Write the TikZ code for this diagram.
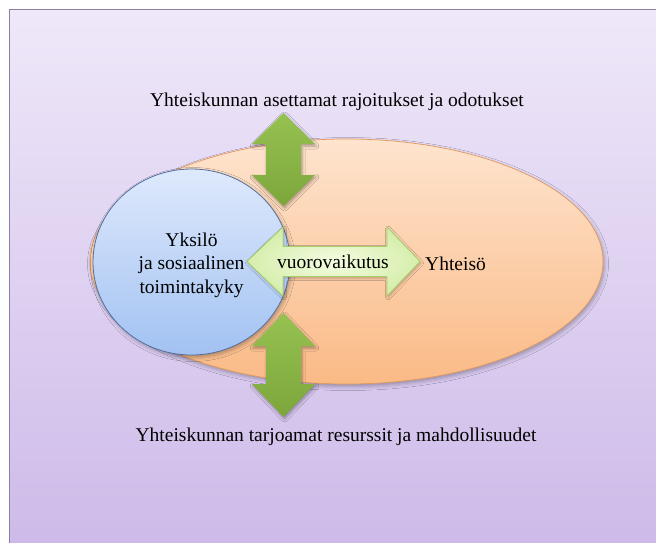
\documentclass[tikz,border=0pt]{standalone}
\usepackage{fontspec}
\setmainfont{Liberation Serif}
\usetikzlibrary{shapes.geometric,shadows.blur}

\definecolor{bgtop}{RGB}{239,232,249}
\definecolor{bgbot}{RGB}{204,184,232}
\definecolor{frameline}{RGB}{138,128,166}
\definecolor{peachtop}{RGB}{254,228,206}
\definecolor{peachbot}{RGB}{250,186,134}
\definecolor{peachline}{RGB}{226,152,92}
\definecolor{bluetop}{RGB}{222,233,252}
\definecolor{bluebot}{RGB}{162,194,242}
\definecolor{blueline}{RGB}{84,112,158}
\definecolor{greentop}{RGB}{150,194,82}
\definecolor{greenbot}{RGB}{124,166,58}
\definecolor{palegreentop}{RGB}{244,252,226}
\definecolor{palegreenbot}{RGB}{214,238,172}
\definecolor{palegreenline}{RGB}{168,206,108}

% vertical double block arrow: centre x, top y, bottom y, head length
\newcommand\updownblock[5][]{%
  \path[greenblock,#1]
    (#2,#3) -- (#2+31.5,#3+#5) -- (#2+17.5,#3+#5) -- (#2+17.5,#4-#5)
    -- (#2+31.5,#4-#5) -- (#2,#4) -- (#2-31.5,#4-#5) -- (#2-17.5,#4-#5)
    -- (#2-17.5,#3+#5) -- (#2-31.5,#3+#5) -- cycle;}

\tikzset{
  label text/.style={font=\fontsize{19.5}{23.5}\selectfont, text=black, inner sep=0pt},
  greenblock/.style={top color=greentop, bottom color=greenbot, draw=none,
    blur shadow={shadow xshift=1pt, shadow yshift=-2pt, shadow blur radius=3pt, shadow opacity=35}},
  soft shadow/.style={blur shadow={shadow xshift=1.5pt, shadow yshift=-2.5pt,
    shadow blur radius=4pt, shadow opacity=30}},
}

\begin{document}
\begin{tikzpicture}[x=1pt,y=-1pt]
\useasboundingbox (0,0) rectangle (656,542);
\fill[white] (0,0) rectangle (656,542);
% page frame with lavender gradient
\draw[frameline, line width=1.4pt, top color=bgtop, bottom color=bgbot]
  (9.5,9.5) rectangle (680,570);

% community ellipse
\node (community) [ellipse, minimum width=513pt, minimum height=245pt, inner sep=0pt,
  draw=peachline, line width=0.7pt, top color=peachtop, bottom color=peachbot, soft shadow]
  at (346.5,261.5) {};

% upper arrow
\updownblock{283.5}{113}{206}{31}

% individual circle
\node (individual) [ellipse, minimum width=197pt, minimum height=186pt, inner sep=0pt,
  draw=blueline, line width=0.8pt, top color=bluetop, bottom color=bluebot, soft shadow]
  at (191.5,262) {};
\node (individualtext) [label text, align=center] at (191.5,265)
  {Yksilö\\ja sosiaalinen\\toimintakyky};

% interaction arrow
\path[draw=palegreenline, line width=0.8pt, inner color=palegreentop, outer color=palegreenbot,
  blur shadow={shadow xshift=1pt, shadow yshift=-1.5pt, shadow blur radius=2.5pt, shadow opacity=25}]
  (247,261.5) -- (283,227) -- (283,246.5) -- (387,246.5) -- (387,227) -- (420,261.5)
  -- (387,296) -- (387,276.5) -- (283,276.5) -- (283,296) -- cycle;
\node (interaction) [label text] at (333,262) {vuorovaikutus};

% lower arrow
\updownblock{283.5}{313}{417}{33}

% labels
\node (community label) [label text, anchor=west] at (425,264) {Yhteisö};
\node (limits) [label text] at (337,102) {Yhteiskunnan asettamat rajoitukset ja odotukset};
\node (resources) [label text] at (336,437) {Yhteiskunnan tarjoamat resurssit ja mahdollisuudet};
\end{tikzpicture}
\end{document}
